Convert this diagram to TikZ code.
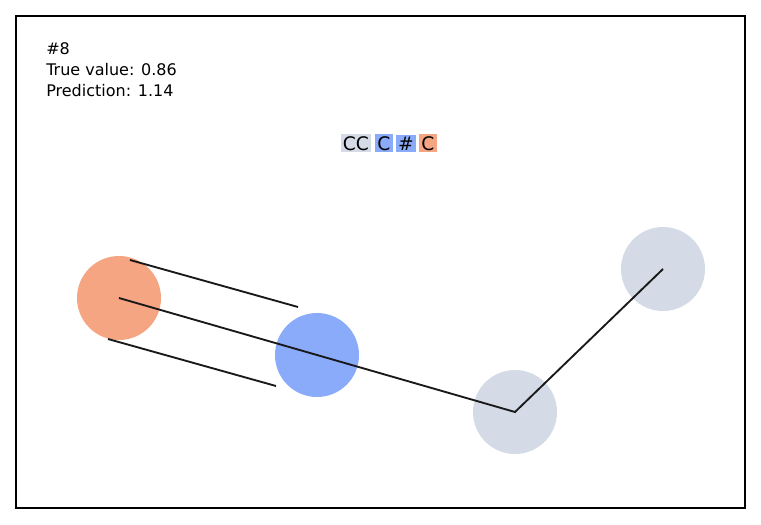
\documentclass[tikz,border=0pt]{standalone}
\usepackage{fontspec}
\setmainfont{DejaVu Sans}
\begin{document}
\begin{tikzpicture}[x=0.75pt,y=-0.75pt,
  atom/.style={circle,minimum size=84*0.75pt,inner sep=0pt},
  tok/.style={inner sep=1.5pt,font=\fontsize{14}{16}\selectfont,anchor=base},
  bond/.style={line width=1.4pt,black!90}]
\definecolor{cor}{RGB}{245,165,130}
\definecolor{cbl}{RGB}{138,170,250}
\definecolor{cgr}{RGB}{212,219,230}
\useasboundingbox (0,0) rectangle (761,525);
\draw[line width=1pt] (16,16) rectangle (745,508);
\node[atom,fill=cor] (a) at (119,298) {};
\node[atom,fill=cbl] (b) at (317,355) {};
\node[atom,fill=cgr] (c) at (515,412) {};
\node[atom,fill=cgr] (d) at (663,269) {};
\draw[bond] (a.center) -- (c.center) -- (d.center);
\coordinate (p1) at (130,260); \coordinate (p2) at (298,307);
\coordinate (q1) at (108,339); \coordinate (q2) at (276,386);
\draw[bond] (p1) -- (p2);
\draw[bond] (q1) -- (q2);
\node[anchor=north west,align=left,inner sep=0pt,font=\fontsize{12}{16}\selectfont] (t) at (46,42) {\#8\\True value: 0.86\\Prediction: 1.14};
\node[tok,fill=cgr] (k1) at (356,150) {CC};
\node[tok,fill=cbl] (k2) at (384,150) {C};
\node[tok,fill=cbl] (k3) at (406,150) {\#};
\node[tok,fill=cor] (k4) at (428,150) {C};
\end{tikzpicture}
\end{document}
